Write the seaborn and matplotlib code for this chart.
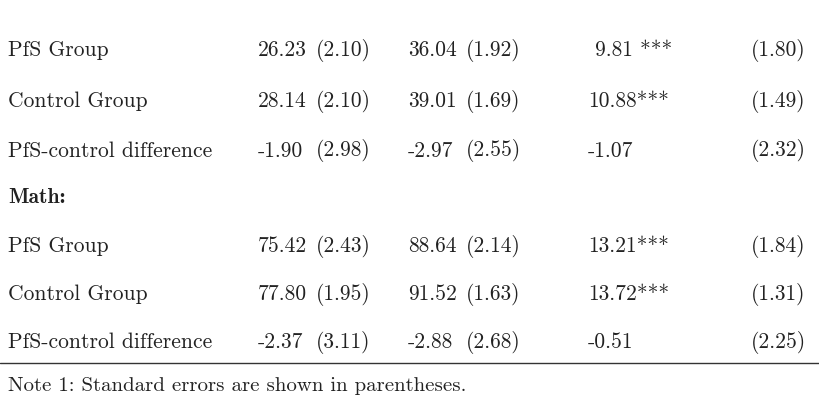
import matplotlib
matplotlib.use("Agg")
import matplotlib.pyplot as plt
import seaborn as sns

sns.set_theme(style="white")
plt.rcParams['font.family'] = ['cmr10', 'DejaVu Serif']
plt.rcParams['axes.unicode_minus'] = False

row_labels = ["PfS Group", "Control Group", "PfS-control difference", "Math:",
              "PfS Group", "Control Group", "PfS-control difference"]
pre_mean = ["26.23", "28.14", "-1.90", "", "75.42", "77.80", "-2.37"]
pre_se = ["(2.10)", "(2.10)", "(2.98)", "", "(2.43)", "(1.95)", "(3.11)"]
post_mean = ["36.04", "39.01", "-2.97", "", "88.64", "91.52", "-2.88"]
post_se = ["(1.92)", "(1.69)", "(2.55)", "", "(2.14)", "(1.63)", "(2.68)"]
gain = [" 9.81 ***", "10.88***", "-1.07", "", "13.21***", "13.72***", "-0.51"]
gain_se = ["(1.80)", "(1.49)", "(2.32)", "", "(1.84)", "(1.31)", "(2.25)"]
note = "Note 1: Standard errors are shown in parentheses."

fig = plt.figure(figsize=(8.2, 4.12), dpi=100)
ax = fig.add_axes([0, 0, 1, 1])
ax.set_xlim(0, 820)
ax.set_ylim(412, 0)
ax.axis("off")

row_y = [50, 101, 151, 197, 246, 294, 342]
col_x = [258, 316, 408, 466, 588, 751]
fs = 15.5
for i, y in enumerate(row_y):
    bold = row_labels[i] == "Math:"
    ax.text(8, y, row_labels[i], fontsize=fs, va="center", color="#222222",
            family=['cmb10'] if bold else None)
    for x, col in zip(col_x, [pre_mean, pre_se, post_mean, post_se, gain, gain_se]):
        ax.text(x, y, col[i], fontsize=fs, va="center", color="#222222")

ax.plot([0, 820], [363, 363], color="#333333", lw=1)
ax.text(8, 386, note, fontsize=15, va="center", color="#222222")

fig.savefig("out.png", dpi=100, facecolor="white")
